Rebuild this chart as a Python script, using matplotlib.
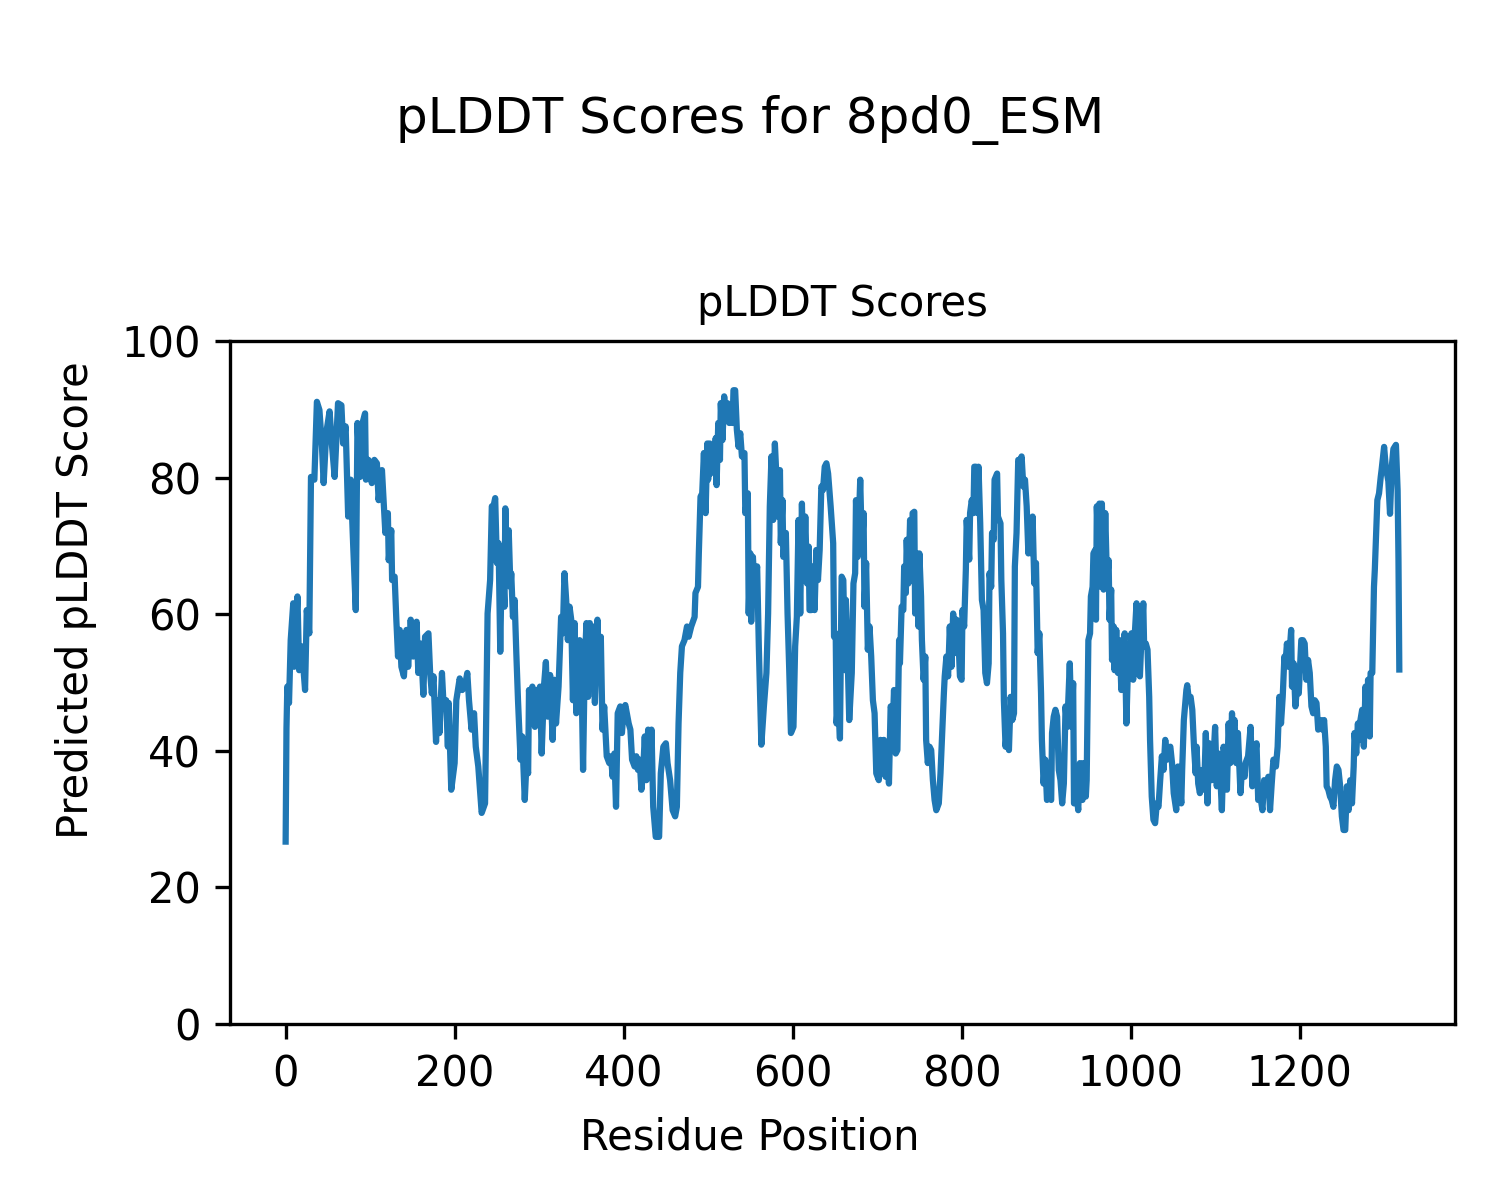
import matplotlib
matplotlib.use("Agg")
import matplotlib.pyplot as plt

# residue positions and pLDDT values
residues = [
    0, 1, 2, 4, 6, 9, 10, 14, 16, 19, 23, 25, 28, 30, 34, 37, 40, 43, 45, 48,
    52, 55, 58, 62, 66, 68, 71, 74, 77, 80, 83, 85, 88, 91, 94, 95, 98, 102, 105,
    108, 110, 114, 118, 121, 122, 125, 126, 129, 131, 133, 135, 137, 140, 143, 145,
    148, 151, 155, 157, 160, 163, 165, 169, 171, 173, 175, 178, 180, 182, 185, 187,
    190, 192, 193, 196, 200, 202, 206, 209, 212, 215, 217, 220, 223, 225, 228, 232,
    236, 239, 242, 244, 246, 248, 250, 252, 254, 256, 259, 260, 262, 264, 266, 267,
    269, 271, 273, 275, 278, 280, 283, 285, 287, 288, 290, 292, 295, 297, 299, 301,
    303, 306, 308, 310, 313, 316, 318, 320, 323, 326, 328, 330, 332, 334, 336, 338,
    340, 342, 344, 346, 348, 350, 352,
    354, 356, 358, 360, 362, 364, 366, 369, 371, 373, 375, 377, 380, 383, 385, 387,
    389, 391, 393, 396, 398, 400, 402, 406, 408, 410, 413, 415, 417, 419, 421, 423,
    425, 427, 429, 431, 433, 435, 438, 442, 444, 447, 450, 452, 455, 458, 461, 463,
    464, 465, 467, 469, 472, 475, 477, 480, 484, 485, 488, 489, 491, 493, 495, 497,
    499, 500, 502, 503, 505, 507, 509, 510, 512, 514, 515, 517, 519, 521, 523, 525,
    527, 529, 530, 532, 534, 536, 538, 540, 543, 544, 547, 548, 550, 551, 553, 555,
    558, 560, 563, 566, 569, 571, 573, 575, 577, 579,
    583, 585, 586, 588, 589, 592, 594, 596, 598, 601, 603, 605, 606, 607, 609, 611,
    613, 615, 617, 619, 620, 622, 624, 626, 628, 630, 632, 634, 636, 638, 640, 642,
    645, 648, 649, 651, 652, 654, 656, 658, 660, 662, 663, 665, 667, 670, 672, 674,
    675, 677, 680, 682, 684, 685, 687, 689, 691, 693, 695, 697, 699,
    702, 704, 706, 708, 710, 712, 714, 716, 719, 720, 722, 724, 726, 727, 729, 731,
    732, 734, 735, 737, 739, 741, 742, 744, 745, 747, 749, 750, 752, 753, 755, 757,
    758, 760, 762, 764, 766, 768, 770, 773, 775, 777, 779, 780, 782, 784, 786, 788,
    790, 792, 794, 796, 798, 800, 801, 803, 805, 806, 809, 810, 812, 814, 815,
    817, 819, 820, 822, 824, 826, 828, 830, 832, 833, 835, 836, 838, 839, 842, 843,
    846, 847, 849, 850, 852, 854, 856, 858, 860, 862, 863, 865, 867, 869, 871, 873,
    875, 877, 879, 881, 883, 884, 886, 888, 890, 892, 894, 895, 897, 899, 901, 903,
    906, 907, 909, 911, 913, 915, 917, 919, 921, 923, 925, 928, 930, 932, 933, 936,
    938, 940, 943, 944,
    947, 948, 950, 952, 953, 955, 956, 958, 959, 960, 962, 963, 965, 966, 968, 970,
    972, 974, 975, 977, 978, 980, 981, 983, 985, 987, 989, 991, 993, 995, 997, 999,
    1001, 1003, 1005, 1007, 1009, 1011, 1013, 1015, 1016, 1018, 1020, 1022, 1023,
    1025, 1027, 1029, 1031, 1033, 1035, 1037, 1039, 1041, 1043, 1045, 1047, 1049, 1051,
    1054, 1056, 1060, 1061, 1063, 1066, 1067, 1069, 1071, 1073, 1075, 1077, 1078,
    1080, 1082, 1085, 1087, 1089, 1091, 1093, 1096, 1098, 1100, 1102, 1104, 1106,
    1108, 1110, 1112, 1114, 1116, 1118, 1120, 1121, 1123, 1125, 1127, 1130, 1132,
    1135, 1136, 1139, 1142, 1144, 1146, 1149, 1151, 1153, 1156, 1158, 1161, 1163,
    1165, 1167, 1169,
    1172, 1174, 1176, 1178, 1180, 1182, 1183, 1185, 1187, 1190, 1191, 1193, 1195,
    1197, 1199, 1202, 1204, 1206, 1208, 1210, 1212, 1214, 1216, 1218, 1220, 1222,
    1225, 1227, 1229, 1231, 1232, 1234, 1236, 1238, 1240, 1242, 1244, 1246, 1248,
    1250, 1252, 1254, 1256, 1258, 1260, 1262, 1264, 1265, 1267, 1269, 1270, 1272,
    1274, 1276, 1278, 1280, 1281, 1283, 1284, 1286, 1288, 1289, 1291, 1292, 1294,
    1296, 1297, 1300, 1302, 1305, 1307, 1309, 1311, 1314, 1316, 1317, 1318,
]

plddt = [
    26.7, 43.3, 49.4, 47.0, 56.2, 61.6, 52.3, 62.6, 51.8, 55.3, 48.9, 60.6, 57.2, 80.1, 79.7, 91.1, 89.9, 84.5, 79.2, 86.5,
    89.7, 84.5, 80.1, 90.9, 90.6, 85.0, 87.5, 74.3, 79.7, 69.9, 60.6, 88.0, 80.1, 88.0, 89.4, 79.7, 82.6, 79.2, 82.6,
    82.1, 76.7, 81.1, 71.9, 74.8, 67.9, 72.3, 65.0, 65.5, 59.2, 53.8, 57.7, 52.3, 50.9, 57.7, 52.3,
    59.2, 53.8, 58.9, 51.4, 55.7, 48.2, 56.7, 57.2, 51.4, 48.4, 50.9, 41.3, 47.4, 42.6, 51.4, 46.5,
    47.4, 40.6, 47.0, 34.3, 38.2, 47.4, 50.6, 48.9, 49.4, 51.4, 47.4, 43.1, 45.5, 40.6, 37.7, 30.9,
    32.3, 60.1, 65.0, 75.8, 75.8, 77.0, 67.5, 70.4, 54.5, 69.9, 61.1, 75.5, 66.0, 72.3, 64.0, 66.0,
    59.6, 62.1, 54.3, 47.4, 38.7, 42.1, 32.8, 38.2, 36.7, 48.9, 44.5, 49.4, 43.5, 48.9, 45.5, 49.4,
    39.6, 49.9, 53.0, 45.0, 51.1, 41.6, 50.4, 44.0, 49.4, 59.6, 57.2, 66.0, 62.1, 56.2, 61.1, 59.2,
    47.4, 58.7, 45.5, 48.9, 56.2, 52.3, 37.2,
    52.8, 58.7, 47.9, 58.7, 50.4, 58.2, 47.0, 59.2, 51.4, 56.7, 43.1, 46.5, 39.2, 38.2, 39.2, 36.2,
    39.6, 31.8, 45.5, 46.5, 42.6, 46.0, 46.7, 44.0, 43.1, 38.7, 37.7, 39.2, 37.2, 38.7, 34.3, 36.7,
    42.1, 35.7, 43.1, 36.7, 43.1, 31.8, 27.4, 27.4, 36.7, 40.6, 41.1, 38.2, 35.7, 31.3, 30.4, 31.8,
    38.2, 44.0, 51.4, 55.3, 56.2, 58.2, 56.7, 58.2, 59.6, 63.1, 64.0, 68.9, 77.2, 77.7, 83.6, 74.8,
    85.0, 79.7, 85.0, 80.6, 84.5, 82.1, 85.8, 78.9, 88.0, 82.6, 90.9, 85.5, 91.9, 88.4, 90.9, 88.0,
    90.4, 88.0, 92.8, 92.8, 87.0, 84.5, 86.5, 83.1, 83.6, 74.8, 77.7, 60.1, 68.9, 58.9, 68.4, 63.6,
    67.0, 55.3, 40.9, 46.5, 51.4, 60.1, 75.8, 83.1, 73.8, 85.0,
    74.3, 81.1, 70.4, 76.7, 68.4, 71.9, 60.1, 51.8, 42.6, 43.5, 55.3, 59.6, 66.5, 73.8, 60.1, 76.2,
    65.0, 74.3, 64.5, 69.9, 60.6, 60.6, 67.0, 60.6, 69.4, 65.0, 69.4, 78.7, 78.2, 81.6, 82.1, 80.6,
    75.8, 70.4, 56.7, 57.2, 44.0, 47.4, 41.8, 65.5, 65.0, 51.8, 62.1, 54.3, 44.5, 51.4, 64.5, 66.0,
    76.7, 68.4, 79.7, 69.4, 74.8, 61.1, 67.5, 54.8, 58.2, 53.8, 47.4, 45.5, 36.7,
    35.7, 41.6, 37.2, 41.6, 36.2, 40.6, 35.2, 46.5, 45.5, 48.9, 39.6, 40.1, 56.2, 52.8, 61.1, 60.6,
    67.0, 63.1, 70.9, 64.5, 73.8, 65.0, 74.8, 75.0, 60.1, 68.9, 58.2, 68.9, 62.6, 56.2, 50.4, 53.8,
    41.6, 38.2, 40.6, 40.1, 35.7, 32.8, 31.3, 32.3, 36.7, 42.6, 48.4, 50.9, 53.8, 50.9, 58.2, 52.3,
    60.1, 54.3, 59.2, 57.2, 50.9, 50.4, 60.6, 58.2, 66.5, 73.8, 68.0, 74.8, 76.7, 74.8, 81.6,
    81.6, 74.8, 81.6, 73.3, 62.1, 60.6, 51.4, 49.9, 52.8, 66.0, 64.0, 71.9, 70.9, 79.7, 80.6, 74.3,
    73.3, 65.0, 57.2, 47.4, 40.6, 43.5, 40.1, 47.9, 44.5, 45.5, 67.0, 71.9, 82.6, 82.1, 83.1, 78.7,
    79.7, 75.8, 68.9, 73.8, 68.9, 74.3, 64.5, 67.5, 54.3, 57.2, 48.4, 41.6, 35.2, 38.7, 32.8, 33.3,
    32.8, 42.6, 45.0, 46.0, 45.0, 37.2, 35.7, 32.3, 35.2, 46.5, 43.5, 52.8, 43.5, 49.9, 32.3, 33.8,
    31.3, 38.2, 32.8, 38.2,
    33.3, 35.7, 56.2, 57.2, 62.6, 64.0, 68.9, 69.4, 59.2, 75.8, 68.9, 76.2, 64.0, 76.2, 63.6, 74.8,
    65.0, 67.9, 59.2, 63.6, 53.3, 58.2, 51.8, 57.7, 51.4, 56.2, 48.9, 55.3, 57.2, 44.0, 52.8, 51.4,
    57.2, 50.4, 57.2, 61.6, 51.4, 50.9, 57.2, 61.6, 55.3, 55.7, 54.8, 47.9, 41.6,
    33.3, 29.9, 29.4, 32.3, 31.8, 35.7, 39.2, 37.2, 41.6, 38.7, 40.1, 40.6, 38.2, 33.8,
    31.3, 37.7, 32.3, 37.2, 44.5, 48.9, 49.6, 47.4, 47.9, 46.0, 40.6, 36.7, 40.6,
    35.2, 33.8, 37.2, 34.3, 42.6, 32.3, 41.1, 35.7, 38.7, 43.5, 34.8, 39.6, 36.7,
    31.3, 40.6, 38.7, 34.3, 44.0, 38.2, 45.5, 42.1, 44.5, 38.2, 42.6, 33.8, 37.7,
    36.2, 38.2, 39.2, 43.5, 34.8, 38.2, 41.1, 32.8, 33.8, 31.3, 35.7, 33.8, 36.2,
    31.3, 35.2, 38.7,
    37.7, 40.6, 47.9, 44.0, 47.9, 53.8, 52.3, 55.7, 52.3, 57.7, 49.4, 52.8, 46.5,
    49.4, 48.4, 56.2, 56.2, 55.7, 50.4, 53.3, 51.4, 46.5, 45.5, 47.4, 47.0, 43.1,
    44.5, 43.1, 44.5, 40.6, 34.8, 34.3, 33.3, 32.8, 31.8, 35.7, 37.7, 37.2, 34.8,
    30.4, 28.4, 28.4, 34.8, 31.3, 35.7, 32.3, 37.7, 42.6, 39.6, 44.0, 41.6, 44.5,
    46.0, 40.6, 49.4, 42.6, 50.4, 42.1, 51.4, 51.4, 64.0, 66.5, 73.3, 76.7, 77.7,
    80.1, 81.1, 84.5, 81.5, 79.5, 74.7, 81.5, 84.2, 84.8, 78.1, 68.0, 51.9,
]

protein_name = "8pd0_ESM"

fig = plt.figure(figsize=(5, 4), dpi=300)
ax = fig.add_axes([0.1533, 0.1467, 0.8167, 0.5691])

ax.plot(residues, plddt, color="tab:blue", linewidth=1.5)
ax.set_ylim(0, 100)
ax.set_title("pLDDT Scores", fontsize=10)

fig.suptitle("pLDDT Scores for {}".format(protein_name), y=0.9, va="center")
fig.supxlabel("Residue Position", y=0.052, va="center", fontsize=10)
fig.supylabel("Predicted pLDDT Score", x=0.051, ha="center", fontsize=10)

fig.savefig("out.png", dpi=300)
